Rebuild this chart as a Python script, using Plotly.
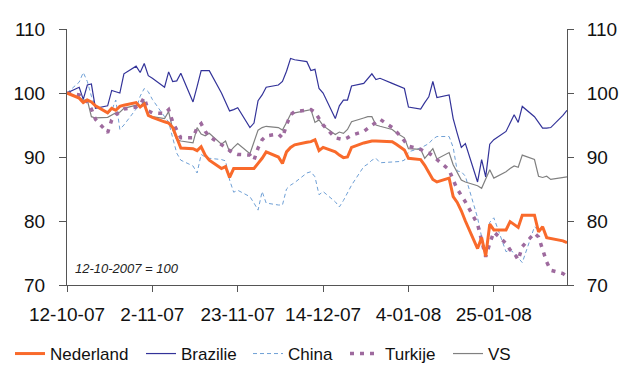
import pandas as pd
import plotly.graph_objects as go

# Trading days (weekdays) 12-10-2007 .. 12-02-2008
dates = pd.bdate_range("2007-10-12", "2008-02-12")

series_names = ["Nederland", "Brazilie", "China", "Turkije", "VS"]

nederland = [100,
    99.2, 98.5, 98.9, 98.6, 98.0,
    96.9, 97.6, 97.3, 97.9, 98.1,
    98.5, 97.8, 98.3, 96.5, 96.2,
    95.5, 95.3, 94.6, 92.9, 91.4,
    91.3, 91.0, 91.6, 90.3, 89.5,
    88.2, 88.5, 86.8, 88.2, 88.2,
    88.2, 88.2, 89.0, 89.8, 90.8,
    90.0, 89.0, 90.8, 91.5, 91.9,
    92.3, 92.4, 92.7, 91.0, 91.5,
    90.8, 90.3, 89.9, 90.0, 91.5,
    92.2, 92.4, 92.5, 92.5, 92.5,
    92.4, 92.0, 91.5, 91.1, 89.8,
    89.6, 88.7, 87.5, 86.5, 86.1,
    86.7, 83.8, 82.9, 81.6, 80.0,
    75.7, 77.4, 74.5, 79.5, 78.6,
    78.6, 79.9, 79.4, 79.0, 80.9,
    80.9, 78.3, 79.1, 77.4, 77.3,
    76.9, 76.6]

brazilie = [100,
    100.9, 99.0, 101.25, 101.4, 97.6,
    98.0, 100.4, 100.2, 100.0, 103.0,
    104.2, 103.2, 104.6, 102.7, 102.3,
    100.9, 103.3, 101.8, 101.9, 103.1,
    98.6, 101.0, 103.5, 103.5, 103.5,
    100.0, 98.6, 97.2, 97.4, 97.7,
    94.6, 95.3, 98.8, 99.7, 100.9,
    101.25, 101.8, 103.4, 105.4, 105.2,
    104.9, 103.5, 103.7, 100.7, 100.0,
    96.0, 98.0, 98.9, 98.9, 101.1,
    101.5, 102.2, 103.0, 102.1, 102.3,
    101.5, 101.2, 100.9, 100.7, 97.8,
    97.5, 98.5, 99.4, 101.8, 99.3,
    99.7, 96.0, 93.7, 91.5, 92.1,
    86.1, 89.6, 86.9, 92.0, 92.7,
    94.0, 95.3, 96.6, 95.4, 97.9,
    96.3, 95.4, 94.5, 94.5, 94.6,
    96.5, 97.3]

china = [100,
    101.7, 103.2, 101.8, 99.5, 97.9,
    96.8, 97.3, 98.9, 94.3, 95.0,
    97.5, 99.5, 100.7, 100.2, 99.0,
    96.3, 95.5, 93.0, 90.6, 89.5,
    88.6, 87.5, 90.4, 90.0, 89.8,
    89.6, 89.4, 86.4, 84.5, 84.8,
    83.8, 82.8, 81.7, 84.6, 82.8,
    82.5, 82.5, 85.0, 85.6, 86.0,
    87.5, 87.7, 86.9, 84.1, 84.6,
    83.0, 82.2, 83.2, 84.3, 85.6,
    88.5, 88.9, 89.5, 89.8, 89.1,
    89.2, 89.3, 89.3, 89.5, 90.8,
    91.4, 91.8, 92.1, 92.8, 93.2,
    93.2, 91.5, 87.8, 87.7, 87.0,
    80.5, 77.5, 74.5, 79.8, 80.5,
    75.2, 75.5, 75.0, 74.2, 73.5,
    79.1, 78.5, 79.0, 77.5, 77.3,
    76.8, 76.6]

turkije = [100,
    99.7, 99.2, 98.6, 97.5, 95.9,
    93.8, 95.8, 96.6, 97.1, 97.5,
    97.8, 98.2, 99.3, 97.2, 96.9,
    96.8, 97.4, 95.5, 94.2, 93.0,
    93.0, 94.6, 95.2, 94.0, 93.2,
    92.0, 91.5, 91.0, 90.6, 90.4,
    90.3, 89.5, 91.4, 92.7, 93.3,
    93.6, 93.0, 95.0, 96.6, 97.1,
    97.4, 97.4, 97.0, 96.0, 95.0,
    93.0, 92.8, 92.7, 93.0, 93.4,
    94.0, 94.5, 95.0, 95.4, 95.9,
    94.6, 94.0, 93.3, 92.5, 91.7,
    91.2, 90.8, 90.6, 90.2, 89.6,
    88.0, 86.4, 85.0, 84.0, 83.0,
    79.5, 77.0, 74.4, 76.5, 78.3,
    76.5, 75.5, 75.0, 73.9, 76.0,
    78.1, 77.5, 75.7, 73.6, 72.3,
    71.8, 71.3]

vs = [100,
    99.3, 98.9, 98.9, 96.3, 96.1,
    96.2, 96.6, 96.9, 97.0, 97.6,
    98.1, 97.9, 98.7, 96.5, 96.3,
    96.0, 97.1, 94.3, 92.7, 92.5,
    92.2, 94.6, 93.6, 93.3, 93.7,
    92.0, 92.5, 90.8, 91.5, 92.1,
    90.5, 92.4, 94.2, 94.6, 94.8,
    94.6, 94.2, 95.4, 96.7, 96.9,
    97.3, 97.4, 95.4, 95.8, 94.9,
    93.5, 93.9, 93.7, 94.3, 95.5,
    96.1, 96.3, 96.3, 95.0, 94.8,
    94.3, 93.8, 93.4, 93.0, 91.3,
    91.2, 89.8, 90.6, 91.3, 89.7,
    90.7, 88.8, 87.6, 86.4, 86.1,
    85.5, 85.1, 86.5, 88.0, 86.7,
    87.7, 88.2, 88.6, 88.4, 90.3,
    89.6, 87.0, 86.8, 87.0, 86.5,
    86.8, 86.9]

base_note = "12-10-2007 = 100"
y_ticks = [70, 80, 90, 100, 110]

FONT = "Liberation Sans, Arial, sans-serif"
AX = "#555555"

styles = {
    "Nederland": dict(color="#F96A2B", width=3),
    "Brazilie": dict(color="#333399", width=1.2),
    "China": dict(color="#6FA0D6", width=1, dash="4px,3px"),
    "Turkije": dict(color="#9E6A9E", width=3.5, dash="4px,6px"),
    "VS": dict(color="#808080", width=1.2),
}
values = {"Nederland": nederland, "Brazilie": brazilie, "China": china,
          "Turkije": turkije, "VS": vs}
legend_ids = {"Nederland": "legend", "Brazilie": "legend2", "China": "legend3",
              "Turkije": "legend4", "VS": "legend5"}
legend_text_x = {"Nederland": 50, "Brazilie": 181, "China": 288,
                 "Turkije": 385, "VS": 488}

fig = go.Figure()
draw_order = ["China", "Brazilie", "VS", "Turkije", "Nederland"]
for name in draw_order:
    fig.add_trace(go.Scatter(
        x=dates, y=values[name], name=name, mode="lines",
        line=styles[name], legend=legend_ids[name],
    ))
# invisible trace to activate the right-hand axis
fig.add_trace(go.Scatter(x=dates, y=nederland, yaxis="y2", mode="lines",
                         line=dict(width=0, color="rgba(0,0,0,0)"),
                         showlegend=False, hoverinfo="skip"))

W, H = 619, 365
legend_layouts = {}
for name in series_names:
    legend_layouts[legend_ids[name]] = dict(
        orientation="h", xref="container", yref="container",
        x=(legend_text_x[name] - 40) / W, xanchor="left",
        y=1 - 354 / H, yanchor="middle",
        font=dict(family=FONT, size=17, color="#111"),
        bgcolor="rgba(0,0,0,0)", borderwidth=0,
    )

fig.update_layout(
    width=W, height=H, autosize=False,
    margin=dict(l=67, r=52, t=29, b=80, pad=0, autoexpand=False),
    plot_bgcolor="white", paper_bgcolor="white",
    font=dict(family=FONT, size=19, color="#111"),
    xaxis=dict(
        type="date", range=[dates[0], dates[-1]],
        tick0=dates[0], dtick=21 * 86400000, tickformat="%-d-%m-%y",
        ticks="outside", ticklen=6, tickcolor=AX, tickwidth=1,
        showline=True, linecolor=AX, linewidth=1, showgrid=False,
        zeroline=False, ticklabelstandoff=6,
        tickfont=dict(family=FONT, size=19, color="#111"),
    ),
    yaxis=dict(
        range=[70, 110], tickvals=y_ticks,
        ticks="outside", ticklen=7, tickcolor=AX,
        showline=True, linecolor=AX, linewidth=1, showgrid=False,
        zeroline=False, ticklabelstandoff=10,
        tickfont=dict(family=FONT, size=19, color="#111"),
    ),
    yaxis2=dict(
        range=[70, 110], tickvals=y_ticks, overlaying="y", side="right",
        ticks="outside", ticklen=6, tickcolor=AX,
        showline=True, linecolor=AX, linewidth=1, showgrid=False,
        zeroline=False, ticklabelstandoff=9,
        tickfont=dict(family=FONT, size=19, color="#111"),
    ),
    annotations=[dict(
        text=base_note, xref="paper", yref="paper",
        x=(72.5 - 67) / 500, y=(285 - 268.5) / 256,
        xanchor="left", yanchor="middle", showarrow=False,
        font=dict(family=FONT, size=13, color="#222", style="italic"),
    )],
    **legend_layouts,
)

fig.write_html("out.html")
